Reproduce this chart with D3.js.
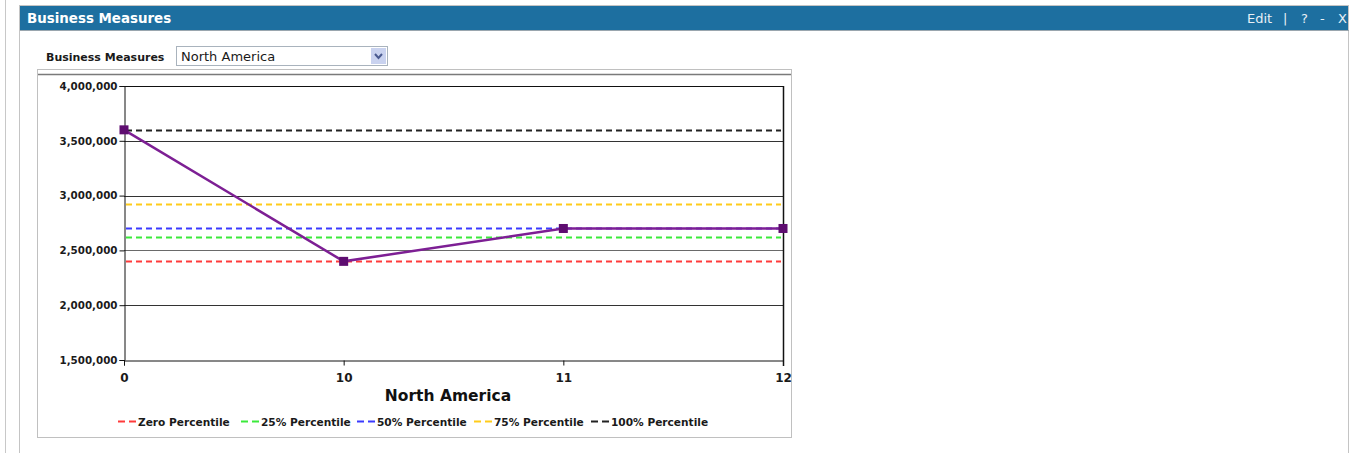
<!DOCTYPE html>
<html>
<head>
    <title>Business Measures</title>
    <script src="https://d3js.org/d3.v7.min.js"></script>
    <style>
        body, html {
            margin: 0;
            padding: 0;
            background: #fff;
            overflow: hidden;
        }
        .tick-label {
            font-family: 'DejaVu Sans', Verdana, sans-serif;
            font-weight: bold;
            font-size: 10px;
            fill: #1a1a1a;
        }
        .legend-label {
            font-family: 'DejaVu Sans', Verdana, sans-serif;
            font-weight: bold;
            font-size: 10.6px;
            fill: #1a1a1a;
        }
    </style>
</head>
<body>
<script>
    // chart data
    const categories = ["0", "10", "11", "12"];
    const values = [3600000, 2400000, 2700000, 2700000];
    const percentileNames = ["Zero Percentile", "25% Percentile", "50% Percentile", "75% Percentile", "100% Percentile"];
    const percentileValues = [2400000, 2625000, 2700000, 2925000, 3600000];
    const percentileColors = ["#ff3b3b", "#3bea3b", "#3b3bff", "#ffcc1a", "#222222"];
    const yTicks = [1500000, 2000000, 2500000, 3000000, 3500000, 4000000];
    const regionLabel = "North America";

    const width = 1350, height = 453;
    const fontFamily = "'DejaVu Sans', Verdana, sans-serif";

    const svg = d3.select("body").append("svg")
        .attr("width", width)
        .attr("height", height)
        .attr("viewBox", [0, 0, width, height]);

    // page chrome: outer left rule and portlet box
    svg.append("line")
        .attr("x1", 5.5).attr("x2", 5.5).attr("y1", 0).attr("y2", height)
        .attr("stroke", "#c8c8c8");

    svg.append("rect")
        .attr("x", 19.5).attr("y", 5.5)
        .attr("width", 1329).attr("height", height)
        .attr("fill", "#fff")
        .attr("stroke", "#c4c4c4");

    svg.append("rect")
        .attr("x", 20).attr("y", 6)
        .attr("width", 1328).attr("height", 24)
        .attr("fill", "#1d6fa0");

    svg.append("line")
        .attr("x1", 20).attr("x2", 1349).attr("y1", 30.5).attr("y2", 30.5)
        .attr("stroke", "#9aa6ae");

    svg.append("text")
        .attr("x", 27).attr("y", 23)
        .attr("font-family", fontFamily)
        .attr("font-weight", "bold")
        .attr("font-size", "13.4px")
        .attr("fill", "#fff")
        .text("Business Measures");

    const headerLinks = [["Edit", 1247], ["|", 1283], ["?", 1301], ["-", 1320], ["X", 1338]];
    svg.append("g").selectAll("text")
        .data(headerLinks)
        .join("text")
        .attr("x", d => d[1]).attr("y", 23)
        .attr("font-family", fontFamily)
        .attr("font-size", "13px")
        .attr("fill", "#e8f0f6")
        .text(d => d[0]);

    // selector row
    svg.append("text")
        .attr("x", 46).attr("y", 61)
        .attr("font-family", fontFamily)
        .attr("font-weight", "bold")
        .attr("font-size", "11px")
        .attr("fill", "#1a1a1a")
        .text("Business Measures");

    svg.append("rect")
        .attr("x", 176.5).attr("y", 46.5)
        .attr("width", 211).attr("height", 19)
        .attr("fill", "#fff")
        .attr("stroke", "#a9b3bd");

    svg.append("rect")
        .attr("x", 371).attr("y", 48)
        .attr("width", 15).attr("height", 16)
        .attr("fill", "#c9d2ef");

    svg.append("path")
        .attr("d", "M375,54 L378.5,58 L382,54")
        .attr("fill", "none")
        .attr("stroke", "#4a5a90")
        .attr("stroke-width", 2);

    svg.append("text")
        .attr("x", 181).attr("y", 61)
        .attr("font-family", fontFamily)
        .attr("font-size", "13px")
        .attr("fill", "#1a1a1a")
        .text(regionLabel);

    // chart frame
    svg.append("rect")
        .attr("x", 37.5).attr("y", 69.5)
        .attr("width", 754).attr("height", 368)
        .attr("fill", "#fff")
        .attr("stroke", "#c0c0c0");

    svg.append("line")
        .attr("x1", 38).attr("x2", 791).attr("y1", 74.5).attr("y2", 74.5)
        .attr("stroke", "#7a7a7a")
        .attr("stroke-width", 1.5);

    // scales
    const x = d3.scalePoint().domain(categories).range([124, 783]);
    const y = d3.scaleLinear().domain([1500000, 4000000]).range([360, 86]);

    const plot = svg.append("g");

    // gridlines
    plot.append("g").selectAll("line")
        .data(yTicks.slice(1, -1))
        .join("line")
        .attr("x1", 124).attr("x2", 783)
        .attr("y1", d => Math.round(y(d)) + 0.5)
        .attr("y2", d => Math.round(y(d)) + 0.5)
        .attr("stroke", (d, i) => i === 1 ? "#6a6a6a" : "#333");

    // percentile reference lines
    plot.append("g").selectAll("line")
        .data(percentileValues)
        .join("line")
        .attr("x1", 126).attr("x2", 781)
        .attr("y1", d => Math.round(y(d)) + 0.5)
        .attr("y2", d => Math.round(y(d)) + 0.5)
        .attr("stroke", (d, i) => percentileColors[i])
        .attr("stroke-width", 2)
        .attr("stroke-dasharray", "6,4");

    // axes
    const yAxis = plot.append("g")
        .attr("transform", "translate(124.5,0)")
        .call(d3.axisLeft(y).tickValues(yTicks).tickFormat(d3.format(",")).tickSize(5).tickPadding(2));
    yAxis.attr("font-family", null).attr("font-size", null);
    yAxis.select(".domain").attr("stroke", "#111");
    yAxis.selectAll(".tick line").attr("stroke", "#111");
    yAxis.selectAll(".tick text").attr("class", "tick-label").attr("fill", null)
        .style("font-size", "10.3px");

    const xAxis = plot.append("g")
        .attr("transform", "translate(0,360.5)")
        .call(d3.axisBottom(x).tickSize(5).tickPadding(8));
    xAxis.attr("font-family", null).attr("font-size", null);
    xAxis.select(".domain").attr("stroke", "#111");
    xAxis.selectAll(".tick line").attr("stroke", "#111");
    xAxis.selectAll(".tick text").attr("class", "tick-label").attr("fill", null)
        .style("font-size", "12px");

    // plot border top and right
    plot.append("line")
        .attr("x1", 124).attr("x2", 784).attr("y1", 86.5).attr("y2", 86.5)
        .attr("stroke", "#111");
    plot.append("line")
        .attr("x1", 783.5).attr("x2", 783.5).attr("y1", 86).attr("y2", 366)
        .attr("stroke", "#111")
        .attr("stroke-width", 1.5);

    // data line
    const lineGen = d3.line()
        .x((d, i) => x(categories[i]))
        .y(d => y(d));

    plot.append("path")
        .datum(values)
        .attr("d", lineGen)
        .attr("fill", "none")
        .attr("stroke", "#7d1f94")
        .attr("stroke-width", 2.5);

    plot.append("g").selectAll("rect")
        .data(values)
        .join("rect")
        .attr("x", (d, i) => x(categories[i]) - 4.5)
        .attr("y", d => y(d) - 4.5)
        .attr("width", 9).attr("height", 9)
        .attr("fill", "#5e0d70");

    // x axis title
    svg.append("text")
        .attr("x", 448).attr("y", 401)
        .attr("text-anchor", "middle")
        .attr("font-family", fontFamily)
        .attr("font-weight", "bold")
        .attr("font-size", "15.5px")
        .attr("fill", "#111")
        .text(regionLabel);

    // legend
    const legendX = [118, 241, 357, 474, 591];
    const legend = svg.append("g").selectAll("g")
        .data(percentileNames)
        .join("g")
        .attr("transform", (d, i) => `translate(${legendX[i]},421)`);

    legend.append("line")
        .attr("x1", 0).attr("x2", 19)
        .attr("y1", 0.5).attr("y2", 0.5)
        .attr("stroke", (d, i) => percentileColors[i])
        .attr("stroke-width", 2)
        .attr("stroke-dasharray", "7,4");

    legend.append("text")
        .attr("class", "legend-label")
        .attr("x", 20).attr("y", 4.5)
        .text(d => d);
</script>
</body>
</html>
